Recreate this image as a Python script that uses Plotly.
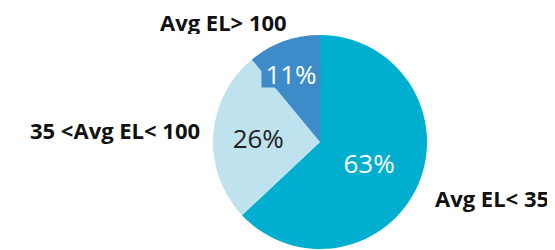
import plotly.graph_objects as go

labels = ["Avg EL< 35", "35 <Avg EL< 100", "Avg EL> 100"]
values = [63, 26, 11]
colors = ["#00AECF", "#BEE3EE", "#3D8BC8"]
text_colors = ["#FFFFFF", "#222222", "#FFFFFF"]

total = sum(values)
pct_text = [f"{round(100*v/total)}%" for v in values]

fig = go.Figure(go.Pie(
    labels=labels,
    values=values,
    sort=False,
    direction="clockwise",
    rotation=0,
    marker=dict(colors=colors, line=dict(width=0)),
    text=[pct_text[0], pct_text[1], ""],
    textinfo="text",
    textposition="inside",
    insidetextorientation="horizontal",
    insidetextfont=dict(family="Open Sans", size=26, color=text_colors),
    showlegend=False,
    hoverinfo="label+percent",
    domain=dict(x=[205/555, 419/555], y=[9/250, 223/250]),
))

W, H = 555, 250

# small label with its own box for the narrow slice
fig.add_annotation(
    x=283/W, y=1 - 65/H, xref="paper", yref="paper",
    text=pct_text[2], showarrow=False,
    font=dict(family="Open Sans", size=26, color="#FFFFFF"),
    bgcolor=colors[2], borderpad=0, width=58, height=27,
    xanchor="center", yanchor="middle",
)

label_specs = [
    (labels[0], 425, 190, "left"),
    (labels[1], 194, 122, "right"),
]
for lab, px, py, anc in label_specs:
    fig.add_annotation(
        x=px/W, y=1 - py/H, xref="paper", yref="paper",
        text="<b>" + lab + "</b>", showarrow=False,
        font=dict(family="Open Sans", size=22, color="#111111"),
        xanchor=anc, yanchor="middle",
    )

fig.add_annotation(
    x=215/W, y=1, xref="paper", yref="paper",
    text="<b>" + labels[2] + "</b>", showarrow=False,
    font=dict(family="Open Sans", size=22, color="#111111"),
    xanchor="center", yanchor="top", height=25, borderpad=0,
)

fig.update_layout(
    width=W, height=H,
    margin=dict(l=0, r=0, t=0, b=0),
    paper_bgcolor="white", plot_bgcolor="white",
)
fig.write_html("out.html")
